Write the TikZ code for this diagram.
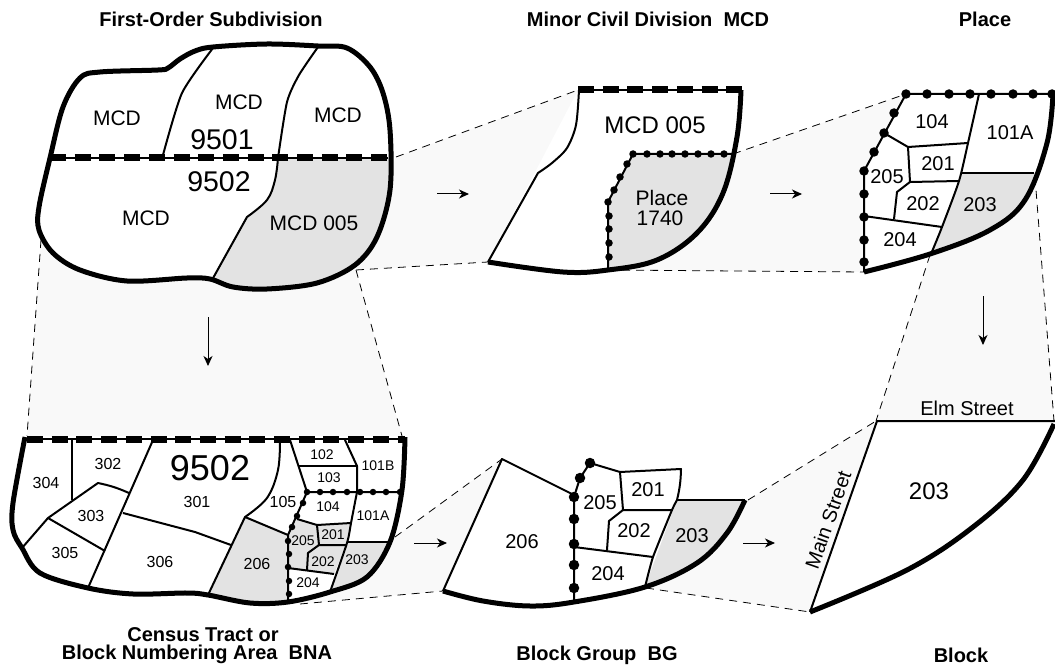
\documentclass[tikz,border=0pt]{standalone}
\usepackage{fontspec}
\setmainfont{Liberation Sans}
\usetikzlibrary{arrows.meta}
\definecolor{faint}{HTML}{F9F9F9}
\definecolor{shade}{HTML}{E3E3E3}
\tikzset{
  zone/.style={fill=faint,draw=none},
  region/.style={fill=shade,draw=none},
  blank/.style={fill=white,draw=none},
  thin line/.style={line width=2pt,line join=round},
  heavy/.style={line width=5pt,line join=round},
  leader/.style={line width=.8pt,dash pattern=on 8pt off 6pt},
  flow/.style={line width=1pt,-{Stealth[length=10pt,width=9pt,inset=3pt]}},
  title/.style={font=\bfseries\fontsize{20}{20}\selectfont,inner sep=0pt},
  base/.style={inner sep=0pt},
  s14/.style={base,font=\fontsize{14}{14}\selectfont},
  s16/.style={base,font=\fontsize{16}{16}\selectfont},
  s20/.style={base,font=\fontsize{20}{20}\selectfont},
  s21/.style={base,font=\fontsize{21}{21}\selectfont},
  s24/.style={base,font=\fontsize{24}{24}\selectfont},
  s28/.style={base,font=\fontsize{28.5}{28.5}\selectfont},
  s36/.style={base,font=\fontsize{36}{36}\selectfont},
  blob/.style={circle,fill=black,inner sep=0pt,minimum size=#1},
}
\newcommand{\railbar}[2]{%
  \draw[line width=1.8pt] (#1) -- (#2);
  \draw[line width=7pt,dash pattern=on 16pt off 8.7pt] (#1) -- (#2);
}
\newcommand{\blobs}[2]{\foreach \px/\py in {#2} \node[blob=#1] at (\px,\py) {};}
\def\outerA{plot[smooth cycle,tension=.55] coordinates {(50,158)(63,107)(80,78)(100,72)(158,70)(168,68)(180,59)(195,51)(213,47)(267,44)(318,46)(347,48)(370,67)(383,93)(390,130)(390,190)(377,237)(355,265)(317,283)(267,289)(233,287)(210,279)(187,278)(127,281)(80,270)(53,253)(39,230)(39,207)}}
\def\outerB{(25,437) -- plot[smooth,tension=.55] coordinates {(25,437)(13,503)(13,530)(22,548)(40,573)(88,588)(133,594)(187,593)(208,595)(250,603)(288,602)(330,592)(367,577)(390,542)(402,490)(405,437)} -- cycle}
\def\outerC{plot[smooth,tension=.6] coordinates {(741,90)(737,137)(723,193)(697,233)(657,260)(608,270)(563,272)(488,262)}}
\def\outerD{plot[smooth,tension=.6] coordinates {(864,272)(930,254)(990,230)(1025,200)(1047,143)(1053,94)}}
\def\outerE{plot[smooth,tension=.6] coordinates {(443,591)(483,601)(530,606)(574,602)(645,587)(697,563)(727,533)(745,500)}}
\def\outerF{plot[smooth,tension=.6] coordinates {(810,612)(907,570)(973,527)(1023,480)(1054,424)}}
\begin{document}
\begin{tikzpicture}[x=1pt,y=-1pt]
\useasboundingbox (0,0) rectangle (1055,671);
% named leader anchors
\coordinate (aL) at (41,240); \coordinate (aR) at (356,270); \coordinate (aT) at (396,157);
\coordinate (bL) at (27,436); \coordinate (bR) at (402,436); \coordinate (bE) at (395,537); \coordinate (bB) at (300,604);
\coordinate (cT) at (578,90); \coordinate (cB) at (488,262); \coordinate (cE) at (733,154); \coordinate (cF) at (608,270);
\coordinate (dT) at (906,94); \coordinate (dB) at (864,272); \coordinate (dL) at (930,255); \coordinate (dR) at (1035,177);
\coordinate (eT) at (502,459); \coordinate (eB) at (443,591); \coordinate (eE) at (748,500); \coordinate (eF) at (646,588);
\coordinate (fT) at (876,421); \coordinate (fB) at (810,612); \coordinate (fR) at (1054,421);
% faint zones
\path[zone] (aL) -- (bL) -- (bR) -- (aR) -- cycle;
\path[zone] (aT) -- (cT) -- (cB) -- (aR) -- cycle;
\path[zone] (cE) -- (dT) -- (dB) -- (cF) -- cycle;
\path[zone] (dL) -- (fT) -- (fR) -- (dR) -- cycle;
\path[zone] (bE) -- (eT) -- (eB) -- (bB) -- cycle;
\path[zone] (eE) -- (fT) -- (fB) -- (eF) -- cycle;
% leaders
\draw[leader] (aL) -- (bL);
\draw[leader] (aR) -- (bR);
\draw[leader] (aT) -- (cT);
\draw[leader] (aR) -- (cB);
\draw[leader] (cE) -- (dT);
\draw[leader] (cF) -- (dB);
\draw[leader] (dL) -- (fT);
\draw[leader] (dR) -- (fR);
\draw[leader] (bE) -- (eT);
\draw[leader] (bB) -- (eB);
\draw[leader] (eE) -- (fT);
\draw[leader] (eF) -- (fB);
% ---- First-order subdivision
\path[blank] \outerA;
\begin{scope}
\clip \outerA;
\path[region] (278,158) -- plot[smooth,tension=.6] coordinates {(278,158)(275,180)(267,200)(247,217)} -- (212,280) -- (205,300) -- (400,300) -- (400,158) -- cycle;
\end{scope}
\draw[thin line] plot[smooth,tension=.4] coordinates {(213,48)(182,93)(163,155)};
\draw[thin line] plot[smooth,tension=.4] coordinates {(318,47)(299,75)(287,102)(278,158)};
\draw[thin line] plot[smooth,tension=.6] coordinates {(278,158)(275,180)(267,200)(247,217)} -- (212,280);
\railbar{50,158}{388,158}
\draw[heavy] \outerA;
\node[s21] (ta1) at (117,118) {MCD};
\node[s21] (ta2) at (239,102) {MCD};
\node[s21] (ta3) at (338,115) {MCD};
\node[s28] (ta4) at (222,140) {9501};
\node[s28] (ta5) at (219,182) {9502};
\node[s21] (ta6) at (146,218) {MCD};
\node[s21] (ta7) at (314,223) {MCD 005};
% ---- Census tract panel
\path[blank] \outerB;
\begin{scope}
\clip \outerB;
\path[region] (245,517) -- (288,535) -- (288,610) -- (200,610) -- (208,595) -- cycle;
\path[region] (297,519) -- (317,525) -- (351,523) -- (347,543) -- (334,574) -- (288,568) -- (288,535) -- cycle;
\path[region] (347,543) -- (400,542) -- (400,560) -- (330,600) -- (330,592) -- cycle;
\end{scope}
\draw[thin line] (72,440) -- (72,500);
\draw[thin line] (22,548) -- (48,518) -- (98,483) to[bend left=6] (129,493);
\draw[thin line] (48,518) -- (105,551);
\draw[thin line] (153,440) -- (88,588);
\draw[thin line] (123,513) -- (195,532) -- (231,545);
\draw[thin line] plot[smooth,tension=.6] coordinates {(280,440)(278,470)(267,498)(245,517)} -- (208,595);
\draw[thin line] (245,517) -- (288,535);
\draw[thin line] (290,440) -- (307,492);
\draw[thin line] (298,466) -- (357,466);
\draw[thin line] (345,440) -- (357,466) -- (357,492);
\draw[thin line] (297,519) -- (317,525) -- (351,523);
\draw[thin line] plot[smooth,tension=.4] coordinates {(357,492)(351,523)(347,543)(330,592)};
\draw[thin line] (347,542) -- (388,542);
\draw[thin line] (317,525) -- (319,545) -- (346,545);
\draw[thin line] (319,545) -- (308,553) -- (307,570);
\draw[thin line] (288,568) -- (334,574);
\draw[thin line] (400,492) -- (307,492) -- (296,517) -- (288,535) -- (288,602);
\blobs{6.5pt}{307/492,320/492,333/492,347/492,360/492,373/492,386/492,400/492,303/503,297/516,292/527,288/541,289/554,288/567,289/581,289/594}
\railbar{27,439}{405,439}
\draw[heavy] plot[smooth,tension=.55] coordinates {(25,437)(13,503)(13,530)(22,548)(40,573)(88,588)(133,594)(187,593)(208,595)(250,603)(288,602)(330,592)(367,577)(390,542)(402,490)(405,437)};
\node[s36] (tb0) at (210,468) {9502};
\node[s16] (tb1) at (46,483) {304};
\node[s16] (tb2) at (108,464) {302};
\node[s16] (tb3) at (91,516) {303};
\node[s16] (tb4) at (65,553) {305};
\node[s16] (tb5) at (197,502) {301};
\node[s16] (tb6) at (160,562) {306};
\node[s16] (tb7) at (257,564) {206};
\node[s16] (tb8) at (283,502) {105};
\node[s14] (tb9) at (322,455) {102};
\node[s14] (tb10) at (329,478) {103};
\node[s14] (tb11) at (378,466) {101B};
\node[s14] (tb12) at (328,507) {104};
\node[s14] (tb13) at (373,516) {101A};
\node[s14] (tb14) at (333,535) {201};
\node[s14] (tb15) at (303,541) {205};
\node[s14] (tb16) at (323,562) {202};
\node[s14] (tb17) at (357,560) {203};
\node[s14] (tb18) at (308,583) {204};
% ---- MCD panel
\path[blank] \outerC -- (538,173) -- (567,148) -- (578,117) -- (579,90) -- cycle;
\begin{scope}
\clip \outerC -- (579,90) -- cycle;
\path[region] (633,154) -- (745,154) -- (745,280) -- (608,280) -- (608,202) -- cycle;
\end{scope}
\draw[thin line] (488,262) -- (538,173) -- plot[smooth,tension=.5] coordinates {(538,173)(552,163)(567,148)(576,125)(579,90)};
\draw[thin line] (733,154) -- (633,154) -- (608,202) -- (608,270);
\blobs{7.5pt}{633/154,647/154,660/154,672/154,685/154,698/154,711/154,724/154,627/164,620/177,614/190,608/202,609/216,609/229,609/243,609/257}
\railbar{578,90}{742,90}
\draw[heavy] \outerC;
\node[s24] (tc1) at (655,125) {MCD 005};
\node[s21] (tc2) at (662,198) {Place};
\node[s21] (tc3) at (660,218) {1740};
% ---- Place panel
\path[blank] \outerD -- (906,94) -- (864,171) -- cycle;
\begin{scope}
\clip \outerD -- (906,94) -- (864,171) -- cycle;
\path[region] (962,173) -- (1060,173) -- (1060,280) -- (925,280) -- (932,253) -- (942,227) -- (959,181) -- cycle;
\end{scope}
\draw[thin line] plot[smooth,tension=.4] coordinates {(979,94)(968,143)(959,181)(942,227)(931,254)};
\draw[thin line] (884,133) -- (908,147) -- (968,143);
\draw[thin line] (908,147) -- (910,182) -- (959,181);
\draw[thin line] (910,182) -- (897,192) -- (894,219);
\draw[thin line] (864,216) -- (942,227);
\draw[thin line] (962,173) -- (1034,173);
\draw[thin line] (1053,94) -- (906,94) -- (864,171) -- (864,272);
\blobs{9.5pt}{906/94,927/94,949/94,970/94,991/94,1013/94,1033/94,1052/94,894/113,884/133,874/152,864/171,864/194,864/217,864/240,864/262}
\draw[heavy] \outerD;
\node[s20] (td1) at (932,122) {104};
\node[s20] (td2) at (1010,133) {101A};
\node[s20] (td3) at (938,164) {201};
\node[s20] (td4) at (887,177) {205};
\node[s20] (td5) at (923,204) {202};
\node[s20] (td6) at (980,205) {203};
\node[s20] (td7) at (900,240) {204};
% ---- Block group panel
\path[blank] (443,591) -- (502,459) -- (574,495) -- (574,602) -- cycle;
\path[blank] (574,495) -- (590,463) -- (620,472) -- (681,469) -- (677,500) -- (645,587) -- (574,602) -- cycle;
\path[blank] \outerE -- (574,560) -- cycle;
\begin{scope}
\clip \outerE -- (677,500) -- cycle;
\path[region] (677,500) -- (750,500) -- (750,600) -- (620,600) -- (645,587) -- cycle;
\end{scope}
\draw[thin line] (443,591) -- (502,459) -- (574,495);
\draw[thin line] (574,602) -- (574,497) -- (580,478) -- (590,463) -- (620,472) -- (681,469) to[bend left=6] (677,500);
\draw[thin line] plot[smooth,tension=.3] coordinates {(677,500)(672,510)(653,557)(645,587)};
\draw[thin line] (620,472) -- (623,510) -- (672,510);
\draw[thin line] (623,510) -- (609,521) -- (607,550);
\draw[thin line] (574,547) -- (653,557);
\draw[line width=2.6pt] (677,500) -- (745,500);
\blobs{10.5pt}{590/463,580/478,574/497,574/519,574/544,574/565,574/588}
\draw[heavy] \outerE;
\node[s20] (te1) at (522,542) {206};
\node[s20] (te2) at (600,503) {205};
\node[s20] (te3) at (648,490) {201};
\node[s20] (te4) at (634,531) {202};
\node[s20] (te5) at (692,536) {203};
\node[s20] (te6) at (608,574) {204};
% ---- Block panel
\path[blank] \outerF -- (1055,421) -- (877,421) -- cycle;
\draw[thin line] (1055,421) -- (877,421) -- (810,612);
\draw[heavy] \outerF;
\node[s24] (tf1) at (929,491) {203};
\node[s20] (tf2) at (967,408) {Elm Street};
\node[s20,rotate=70.6] (tf3) at (828,520) {Main Street};
% ---- flow arrows
\coordinate (f1a) at (208,317); \coordinate (f1b) at (208,366);
\coordinate (f2a) at (437,194); \coordinate (f2b) at (469,194);
\coordinate (f3a) at (770,194); \coordinate (f3b) at (802,194);
\coordinate (f4a) at (983,296); \coordinate (f4b) at (983,345);
\coordinate (f5a) at (414,543); \coordinate (f5b) at (447,543);
\coordinate (f6a) at (743,543); \coordinate (f6b) at (775,543);
\draw[flow] (f1a) -- (f1b);
\draw[flow] (f2a) -- (f2b);
\draw[flow] (f3a) -- (f3b);
\draw[flow] (f4a) -- (f4b);
\draw[flow] (f5a) -- (f5b);
\draw[flow] (f6a) -- (f6b);
% ---- titles
\node[title] (h1) at (211,19) {First-Order Subdivision};
\node[title] (h2) at (648,19) {Minor Civil Division\ \ MCD};
\node[title] (h3) at (985,19) {Place};
\node[title] (h4) at (203,635) {Census Tract or};
\node[title] (h5) at (197,654) {Block Numbering Area\ \ BNA};
\node[title] (h6) at (597,655) {Block Group\ \ BG};
\node[title] (h7) at (961,655) {Block};
\end{tikzpicture}
\end{document}
